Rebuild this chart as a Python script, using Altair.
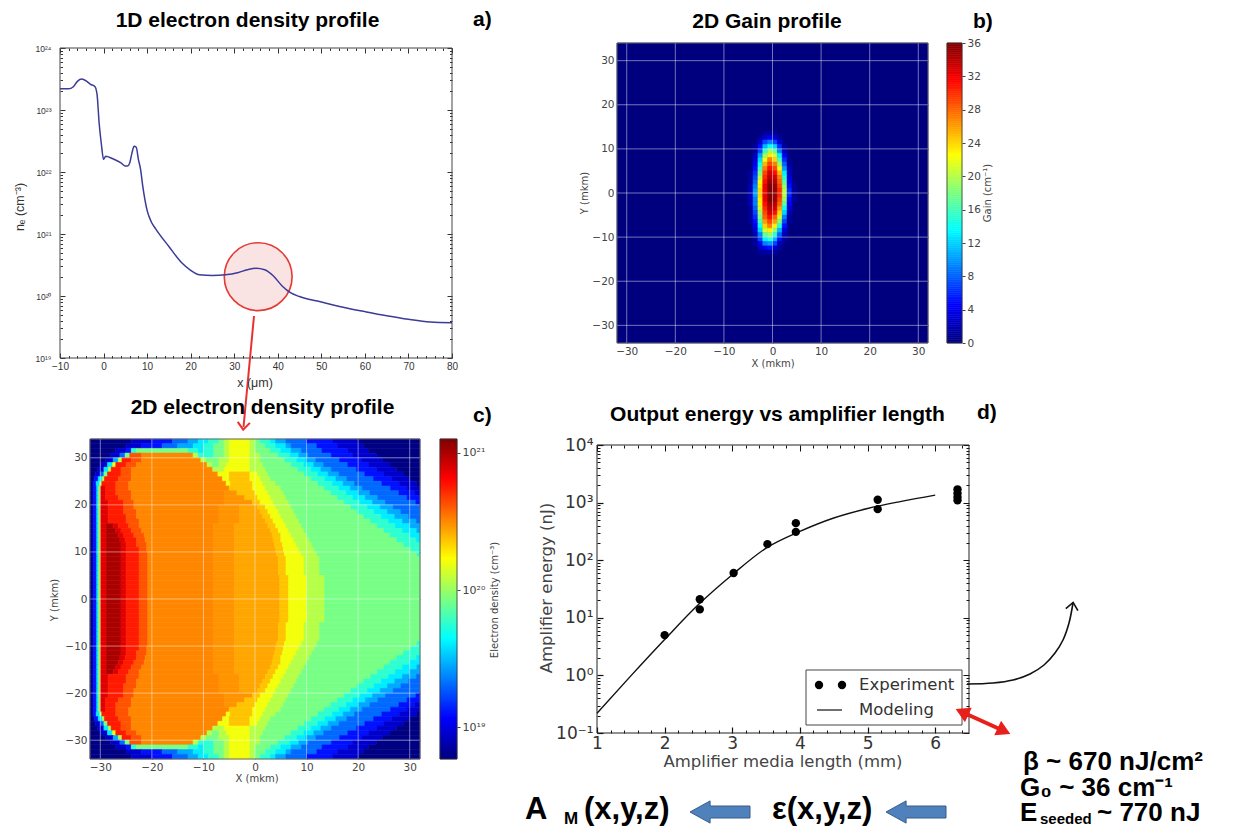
import altair as alt
import pandas as pd

W, H = 1217, 819
SUP = str.maketrans("0123456789-", "⁰¹²³⁴⁵⁶⁷⁸⁹⁻")

# ---------------- panel a : 1D electron density profile ----------------
A_X = [-10, -8, -7, -6, -5, -4, -3, -2, -1.5, -1, -0.5, 0, 0.5, 2, 4, 5, 5.5, 6, 6.5, 7,
       7.5, 8, 8.5, 9, 10, 11, 12, 15, 18, 20, 22, 25, 28, 31, 33, 35, 37, 39, 41, 43,
       45, 50, 55, 60, 65, 70, 75, 80]
A_NE = [2.2e23, 2.2e23, 2.35e23, 2.9e23, 3.15e23, 2.95e23, 2.6e23, 2.4e23, 1.8e23, 6.0e22,
        2.8e22, 1.6e22, 1.8e22, 1.65e22, 1.4e22, 1.25e22, 1.25e22, 1.4e22, 2.0e22, 2.6e22,
        2.5e22, 1.6e22, 1.1e22, 5.9e21, 2.4e21, 1.55e21, 1.2e21, 6.3e20, 3.4e20, 2.6e20,
        2.2e20, 2.15e20, 2.2e20, 2.4e20, 2.65e20, 2.8e20, 2.65e20, 2.1e20, 1.45e20, 1.12e20,
        9.8e19, 8.0e19, 6.6e19, 5.6e19, 4.8e19, 4.2e19, 3.8e19, 3.7e19]
A_XTICKS = [-10, 0, 10, 20, 30, 40, 50, 60, 70, 80]
A_XMINOR = [-8, -6, -4, -2, 2, 4, 6, 8, 12, 14, 16, 18, 22, 24, 26, 28, 32, 34, 36, 38,
            42, 44, 46, 48, 52, 54, 56, 58, 62, 64, 66, 68, 72, 74, 76, 78]
A_YTICKS = [1e19, 1e20, 1e21, 1e22, 1e23, 1e24]
A_MARK_X = [35.5]
A_MARK_Y = [2.05e20]

# ---------------- panel b : 2D gain profile ----------------
GAIN_X_CENTERS = [-5.5, -4.5, -3.5, -2.5, -1.5, -0.5, 0.5, 1.5, 2.5, 3.5, 4.5, 5.5]
GAIN_Y_CENTERS = [13.5, 12.5, 11.5, 10.5, 9.5, 8.5, 7.5, 6.5, 5.5, 4.5, 3.5, 2.5, 1.5, 0.5,
                  -0.5, -1.5, -2.5, -3.5, -4.5, -5.5, -6.5, -7.5, -8.5, -9.5, -10.5, -11.5,
                  -12.5, -13.5]
GAIN_ROWS = [
    "0 0 0 0 1 1 1 0 0 0 0 0",
    "0 0 0 1 3 4 3 1 0 0 0 0",
    "0 0 0 3 7 9 7 3 0 0 0 0",
    "0 0 1 5 11 14 12 6 1 0 0 0",
    "0 0 1 7 15 19 17 9 2 0 0 0",
    "0 0 2 10 19 23 21 13 4 0 0 0",
    "0 0 3 12 22 27 24 16 6 1 0 0",
    "0 0 4 14 25 29 27 19 8 1 0 0",
    "0 0 5 16 27 31 29 22 10 2 0 0",
    "0 1 6 18 29 33 31 25 13 2 0 0",
    "0 1 7 20 30 34 33 27 15 3 0 0",
    "0 1 8 22 31 35 34 28 17 4 0 0",
    "0 2 9 23 32 36 35 29 19 5 1 0",
    "0 2 10 24 32 36 35 30 20 6 1 0",
    "0 2 10 24 32 36 35 30 20 6 1 0",
    "0 2 9 23 32 36 35 29 19 5 1 0",
    "0 2 9 23 31 35 34 28 17 4 0 0",
    "0 1 8 21 30 34 33 26 14 3 0 0",
    "0 1 7 19 29 33 31 24 12 2 0 0",
    "0 1 6 18 28 31 28 21 9 1 0 0",
    "0 1 5 16 26 29 26 18 7 1 0 0",
    "0 0 4 14 24 27 23 15 5 0 0 0",
    "0 0 3 12 21 23 19 11 3 0 0 0",
    "0 0 2 9 17 19 15 8 2 0 0 0",
    "0 0 1 7 13 15 11 5 1 0 0 0",
    "0 0 1 4 9 10 7 2 0 0 0 0",
    "0 0 0 2 4 5 3 1 0 0 0 0",
    "0 0 0 1 1 1 1 0 0 0 0 0",
]
GAIN_MIN, GAIN_MAX = 0, 36
GAIN_TICKS = [0, 4, 8, 12, 16, 20, 24, 28, 32, 36]
GRID_TICKS = [-30, -20, -10, 0, 10, 20, 30]

# ---------------- panel c : 2D electron density (log10 n_e) ----------------
# one row per 1-mkm strip in Y; each token "level:x_end" is a run of one level from the
# previous x_end (starting at X = -32) to x_end.
DENS_LEVELS = {"0": 18.78, "1": 18.95, "2": 19.1, "3": 19.3, "4": 19.45, "5": 19.6,
               "6": 19.75, "7": 19.92, "8": 20.06, "9": 20.2, "a": 20.36, "g": 20.43,
               "h": 20.47, "b": 20.5, "c": 20.62, "d": 20.75, "e": 20.88, "f": 21.0}
L0 = "0:-31.4 2:-30.7 5:-30.3 8:-30 "
DENS_RUNS_UPPER = [
    (33.5, "0:-24 1:-20 2:-16 3:-13 4:-11 5:-9 6:-7 7:-6 8:-5 9:-1 8:0 7:1 6:3 5:4 4:6 3:10 2:15 1:20 0:32"),
    (32.5, "0:-25 1:-22 2:-18 3:-15 4:-12 5:-10 6:-8 7:-6 8:-5 9:-1 8:0 7:2 6:4 5:6 4:7 3:12 2:16 1:21 0:32"),
    (31.5, "0:-27 1:-25 2:-24 6:-23 7:-13 6:-11 5:-10 6:-8 7:-6 8:-5 9:-1 8:0 7:3 6:5 5:7 4:9 3:13 2:18 1:22 0:32"),
    (30.5, "0:-28 1:-26.2 3:-25.2 7:-24.3 c:-22 b:-12 8:-11 6:-8 7:-6 8:-5 9:-1 8:1 7:4.5 6:6.8 5:8.5 4:10.3 3:14.8 2:19 1:23.5 0:32"),
    (29.5, "0:-29 1:-27.5 4:-26.5 8:-25.8 d:-24 c:-22 b:-10.5 8:-9.5 7:-7 8:-5 9:-1 8:1 7:5.8 6:8.1 5:9.9 4:11.8 3:16.4 2:20.6 1:24.8 0:32"),
    (28.5, "0:-30 1:-28.6 5:-27.6 9:-27 d:-25 c:-23 b:-9.3 8:-8.3 7:-7 8:-5.5 9:-1 8:1.5 7:7 6:9.5 5:11.4 4:13.3 3:18 2:22.1 1:26.2 0:32"),
    (27.5, "0:-30.5 1:-29.3 5:-28.4 8:-27.9 d:-26 c:-24 b:-8.2 8:-7.2 8:-6 9:-1 8:2 7:8.3 6:10.9 5:12.8 4:14.8 3:19.7 2:23.6 1:27.5 0:32"),
    (26.5, "0:-31 1:-30 3:-29.3 7:-28.6 d:-26 c:-24 b:-7.2 9:-6 9:-5 a:-1 9:0.5 8:2.5 7:9.6 6:12.2 5:14.2 4:16.3 3:21.3 2:25 1:28.8 0:32"),
    (25.5, "0:-31.2 2:-30.4 5:-29.6 8:-29.2 d:-26.5 c:-24 b:-6.3 9:-5 a:-1 9:1 8:3 7:10.9 6:13.6 5:15.7 4:17.8 3:23 2:26.5 1:30 0:32"),
    (24.5, "0:-31.4 2:-30.8 5:-30.1 8:-29.7 d:-27 c:-24.5 b:-5.6 9:-4.8 a:-0.5 9:1.5 8:4 7:12.2 6:15 5:17.1 4:19.3 3:24.6 2:28 1:31.4 0:32"),
    (23.5, L0 + "e:-29 d:-27 c:-24.5 b:-5 a:-0.5 9:2 8:5 7:13.4 6:16.3 5:18.5 4:20.8 3:26.3 2:29.5 1:32"),
    (22.5, L0 + "e:-29 d:-27 c:-24 b:-6 h:-3.5 a:0 9:2.5 8:5.5 7:14.7 6:17.7 5:20 4:22.3 3:27.9 2:31 1:32"),
    (21.5, L0 + "e:-29 d:-26.5 c:-24 b:-6 h:-2 a:0.5 9:3 8:6 7:16 6:19 5:21.4 4:23.8 3:29.5 2:32"),
    (20.5, L0 + "e:-28.5 d:-25.5 c:-23.5 b:-6 h:-0.5 a:1 9:3.5 8:6.5 7:17.3 6:20.4 5:22.8 4:25.3 3:31.2 2:32"),
    (19.5, L0 + "e:-28.5 d:-25.5 c:-23.5 b:-7 h:-3 g:0.5 a:2 9:4 8:7 7:18.6 6:21.8 5:24.3 4:26.8 3:32"),
    (18.5, L0 + "e:-28.5 d:-25.5 c:-23 b:-7 h:-3 g:1 a:2.5 9:4.5 8:7.5 7:19.8 6:23.1 5:25.7 4:28.3 3:32"),
    (17.5, L0 + "e:-28.5 d:-25 c:-23 b:-7 h:-3 g:1.5 a:3 9:5 8:8 7:21.1 6:24.5 5:27.1 4:29.8 3:32"),
    (16.5, L0 + "e:-28.5 d:-25 c:-22.5 b:-7 h:-3 g:2 a:3.5 9:5.5 8:8.5 7:22.4 6:25.9 5:28.6 4:31.3 3:32"),
    (15.5, L0 + "e:-28.8 f:-27.5 e:-26.5 d:-24.5 c:-22.5 b:-8 h:-4 g:2.5 a:4 9:6 8:9 7:23.7 6:27.2 5:30 4:32"),
    (14.5, L0 + "e:-28.8 f:-27 e:-26 d:-24 c:-22 b:-8 h:-4 g:3 a:4.5 9:6.5 8:9.5 7:25 6:28.6 5:31.4 4:32"),
    (13.5, L0 + "e:-28.8 f:-26.5 e:-25.5 d:-23.5 c:-21.5 b:-8 h:-4 g:3.3 a:5 9:7 8:10 7:26.2 6:30 5:32"),
    (12.5, L0 + "e:-28.8 f:-26.2 e:-25.2 d:-23 c:-21.3 b:-8 h:-4 g:3.5 a:5 9:7.5 8:10.5 7:27.5 6:31.3 5:32"),
    (11.5, L0 + "e:-28.8 f:-26 e:-25 d:-23 c:-21 b:-8 h:-4 g:3.8 a:5.3 9:8 8:11 7:28.8 6:32"),
    (10.5, L0 + "e:-28.8 f:-26 e:-25 d:-22.5 c:-21 b:-8 h:-4 g:4 a:5.5 9:8.5 8:11.5 7:30.1 6:32"),
    (9.5, L0 + "e:-28.8 f:-26 e:-25 d:-22.5 c:-20.8 b:-8 h:-4 g:4.2 a:5.7 9:9 8:12 7:31.4 6:32"),
    (8.5, L0 + "e:-28.8 f:-26 e:-25 d:-22.5 c:-20.8 b:-8 h:-4 g:4.5 a:6 9:9.5 8:12.5 7:32"),
    (7.5, L0 + "e:-28.8 f:-26 e:-25 d:-22.5 c:-20.8 b:-8 h:-4 g:4.5 a:6 9:9.5 8:12.5 7:32"),
    (6.5, L0 + "e:-28.8 f:-26 e:-25 d:-22.5 c:-20.8 b:-8 h:-4 g:4.5 a:6 9:9.5 8:12.5 7:32"),
    (5.5, L0 + "e:-28.8 f:-26 e:-25 d:-22.5 c:-20.8 b:-8 h:-4 g:4.5 a:6 9:9.5 8:12.5 7:32"),
    (4.5, L0 + "e:-28.8 f:-26 e:-25 d:-22.5 c:-20.8 b:-8 h:-4 g:4.8 a:6.5 9:10 8:13.5 7:32"),
    (3.5, L0 + "e:-28.8 f:-26 e:-25 d:-22.5 c:-20.8 b:-8 h:-4 g:4.8 a:6.5 9:10 8:13.5 7:32"),
    (2.5, L0 + "e:-28.8 f:-26 e:-25 d:-22.5 c:-20.8 b:-8 h:-4 g:4.8 a:6.5 9:10 8:13.5 7:32"),
    (1.5, L0 + "e:-28.8 f:-26 e:-25 d:-22.5 c:-20.8 b:-8 h:-4 g:4.8 a:6.5 9:10 8:13.5 7:32"),
    (0.5, L0 + "e:-28.8 f:-26 e:-25 d:-22.5 c:-20.8 b:-8 h:-4 g:4.8 a:6.5 9:10 8:13.5 7:32"),
]
# the profile is mirror-symmetric in Y
DENS_RUNS = DENS_RUNS_UPPER + [(-y, s) for y, s in reversed(DENS_RUNS_UPPER)]
DENS_MIN, DENS_MAX = 18.77, 21.1
DENS_TICKS = [19, 20, 21]

# ---------------- panel d : output energy vs amplifier length ----------------
D_EXP_X = [2.0, 2.52, 2.52, 3.02, 3.52, 3.94, 3.94, 5.15, 5.15, 6.33, 6.33, 6.33, 6.33]
D_EXP_Y = [5.0, 21, 14, 60, 190, 440, 310, 1120, 770, 1700, 1450, 1250, 1100]
D_MOD_X = [1, 1.5, 2, 2.5, 3, 3.5, 4, 4.5, 5, 5.5, 6]
D_MOD_Y = [0.22, 0.98, 4.2, 17, 56, 162, 316, 540, 790, 1050, 1350]
D_XTICKS = [1, 2, 3, 4, 5, 6]
D_XMINOR = [1.2, 1.4, 1.6, 1.8, 2.2, 2.4, 2.6, 2.8, 3.2, 3.4, 3.6, 3.8, 4.2, 4.4, 4.6,
            4.8, 5.2, 5.4, 5.6, 5.8, 6.2, 6.4]
D_YTICKS = [0.1, 1, 10, 100, 1000, 10000]

JET_POS = [0, 0.125, 0.375, 0.5, 0.625, 0.875, 1]
JET_COLORS = ["#00007f", "#0000ff", "#00ffff", "#7fff7f", "#ffff00", "#ff0000", "#7f0000"]

# plot-area boxes in chart pixels: (left, right, top, bottom)
BOX_A = (52, 444, 40, 350)
BOX_B = (609, 920, 35, 335)
BOX_C = (82, 412, 431, 751)
BOX_D = (589, 961, 437, 725)
CBAR_B = (939, 954, 35, 335)
CBAR_C = (432, 449, 431, 751)
CBAR_STEPS = 160


def log_minor(lo, hi):
    return [k * 10.0 ** e for e in range(lo, hi) for k in range(2, 10)]


def pow10_expr(exps, field="round(log(datum.value) / LN10)"):
    return " : ".join(f"{field} == {k} ? '10{str(k).translate(SUP)}'" for k in exps) + " : ''"


def axis(orient, pos, T, values, labels=False, **kw):
    if orient == "bottom":
        off = pos - T - H
    elif orient == "top":
        off = -(pos + T)
    elif orient == "left":
        off = -(pos + T)
    else:
        off = pos - T - W
    return alt.Axis(orient=orient, offset=off, tickSize=T, values=values, labels=labels,
                    domain=False, grid=False, title=None, labelFlush=False,
                    labelOverlap=False, labelBound=False, **kw)


def jet(vmin, vmax):
    return alt.Scale(domain=[vmin + (vmax - vmin) * p for p in JET_POS], range=JET_COLORS,
                     interpolate="rgb")


def frame_layers(frame_df, box, T, xticks, yticks, tick_color, stroke,
                 xminor=None, yminor=None, t=2):
    x0, x1, y0, y1 = box
    layers = [alt.Chart(frame_df).mark_rect(fillOpacity=0, stroke=stroke, strokeWidth=1).encode(
        x=alt.X("x:Q", axis=axis("top", y0, T, xticks, tickColor=tick_color)),
        x2="x2:Q",
        y=alt.Y("y:Q", axis=axis("right", x1, T, yticks, tickColor=tick_color)),
        y2="y2:Q")]
    if xminor is not None:
        inv = alt.Chart(frame_df).mark_point(opacity=0)
        layers.append(inv.encode(
            x=alt.X("x:Q", axis=axis("bottom", y1, t, xminor, tickColor=tick_color)),
            y=alt.Y("y:Q", axis=axis("left", x0, t, yminor, tickColor=tick_color))))
        layers.append(inv.encode(
            x=alt.X("x:Q", axis=axis("top", y0, t, xminor, tickColor=tick_color)),
            y=alt.Y("y:Q", axis=axis("right", x1, t, yminor, tickColor=tick_color))))
    return layers


def colorbar_layer(box, vmin, vmax, ticks, label_size, label_expr=None):
    x0, x1, y0, y1 = box
    step = (vmax - vmin) / CBAR_STEPS
    df = pd.DataFrame({"v": [vmin + i * step for i in range(CBAR_STEPS)]})
    df["v2"] = df["v"] + step
    df["vs"] = df["v"]
    extra = {"labelExpr": label_expr} if label_expr else {}
    bar = alt.Chart(df).mark_rect(strokeWidth=0.6).encode(
        x=alt.value(x0), x2=alt.value(x1),
        y=alt.Y("v:Q", scale=alt.Scale(domain=[vmin, vmax], range=[y1, y0], nice=False,
                                       zero=False),
                axis=alt.Axis(orient="right", offset=x1 - W, tickSize=3, values=ticks,
                              domain=False, grid=False, title=None, labelFlush=False,
                              labelOverlap=False, labelBound=False, labelPadding=2,
                              labelFont="DejaVu Sans", labelFontSize=label_size,
                              labelColor="#444", tickColor="#444", **extra)),
        y2="v2:Q",
        color=alt.Color("v:Q", scale=jet(vmin, vmax), legend=None),
        stroke=alt.Stroke("vs:Q", scale=jet(vmin, vmax), legend=None))
    outline = alt.Chart(ONE).mark_rect(fillOpacity=0, stroke="#333", strokeWidth=0.8).encode(
        x=alt.value(x0), x2=alt.value(x1), y=alt.value(y0), y2=alt.value(y1))
    return [bar, outline]


def txt(items, **style):
    df = pd.DataFrame(items, columns=["t", "x", "y"])
    return alt.Chart(df).mark_text(**style).encode(
        x=alt.X("x:Q", scale=None, axis=None),
        y=alt.Y("y:Q", scale=None, axis=None),
        text="t:N")


ONE = pd.DataFrame({"k": [0]})

# ================= panel a =================
xA = alt.Scale(domain=[-10, 80], range=[BOX_A[0], BOX_A[1]], nice=False, zero=False)
yA = alt.Scale(type="log", domain=[1e19, 1e24], range=[BOX_A[3], BOX_A[2]], nice=False)
dfA = pd.DataFrame({"x": A_X, "ne": A_NE})
lab_a = dict(labels=True, labelFont="Liberation Sans", labelColor="#333", tickColor="#333")
line_a = alt.Chart(dfA).mark_line(color="#3b3b98", strokeWidth=1.5, interpolate="monotone").encode(
    x=alt.X("x:Q", scale=xA, axis=axis("bottom", BOX_A[3], 5, A_XTICKS, labelFontSize=10,
                                       labelPadding=3, **lab_a)),
    y=alt.Y("ne:Q", scale=yA, axis=axis("left", BOX_A[0], 5, A_YTICKS, labelFontSize=8.5,
                                        labelPadding=9, labelExpr=pow10_expr(range(19, 25)),
                                        **lab_a)))
circle_a = alt.Chart(pd.DataFrame({"x": A_MARK_X, "y": A_MARK_Y})).mark_point(
    shape="circle", size=4600, filled=True, fill="#f5c0c0", fillOpacity=0.45,
    stroke="#e53935", strokeWidth=1.6, opacity=1).encode(
    x=alt.X("x:Q", axis=None), y=alt.Y("y:Q", axis=None))
frame_a = pd.DataFrame({"x": [-10], "x2": [80], "y": [1e19], "y2": [1e24]})
panel_a = alt.layer(circle_a, line_a,
                    *frame_layers(frame_a, BOX_A, 5, A_XTICKS, A_YTICKS, "#333", "#444",
                                  A_XMINOR, log_minor(19, 24), 2.5)
                    ).resolve_axis(x="independent", y="independent")

# ================= panel b =================
xB = alt.Scale(domain=[-32, 32], range=[BOX_B[0], BOX_B[1]], nice=False, zero=False)
yB = alt.Scale(domain=[-34, 34], range=[BOX_B[3], BOX_B[2]], nice=False, zero=False)
rows_b = [{"x0": -32, "x1": 32, "y0": -34, "y1": 34, "g": 0}]
for yc, row in zip(GAIN_Y_CENTERS, GAIN_ROWS):
    for xc, v in zip(GAIN_X_CENTERS, row.split()):
        if int(v) > 0:
            rows_b.append({"x0": xc - 0.5, "x1": xc + 0.5, "y0": yc - 0.5, "y1": yc + 0.5,
                           "g": int(v)})
dfB = pd.DataFrame(rows_b)
dfB["gs"] = dfB["g"]
lab_bc = dict(labels=True, labelFont="DejaVu Sans", labelFontSize=10.5, labelColor="#444",
              tickColor="#666")
heat_b = alt.Chart(dfB).mark_rect(strokeWidth=0.6).encode(
    x=alt.X("x0:Q", scale=xB, axis=axis("bottom", BOX_B[3], 4, GRID_TICKS, labelPadding=3, **lab_bc)),
    x2="x1:Q",
    y=alt.Y("y0:Q", scale=yB, axis=axis("left", BOX_B[0], 4, GRID_TICKS, labelPadding=3, **lab_bc)),
    y2="y1:Q",
    color=alt.Color("g:Q", scale=jet(GAIN_MIN, GAIN_MAX), legend=None),
    stroke=alt.Stroke("gs:Q", scale=jet(GAIN_MIN, GAIN_MAX), legend=None))
gridB_v = pd.DataFrame({"v": GRID_TICKS, "lo": -34, "hi": 34})
gridB_h = pd.DataFrame({"v": GRID_TICKS, "lo": -32, "hi": 32})
grid_style = dict(color="white", opacity=0.45, strokeWidth=1)
gb1 = alt.Chart(gridB_v).mark_rule(**grid_style).encode(
    x=alt.X("v:Q", axis=None), y=alt.Y("lo:Q", axis=None), y2="hi:Q")
gb2 = alt.Chart(gridB_h).mark_rule(**grid_style).encode(
    y=alt.Y("v:Q", axis=None), x=alt.X("lo:Q", axis=None), x2="hi:Q")
frame_b = pd.DataFrame({"x": [-32], "x2": [32], "y": [-34], "y2": [34]})
panel_b = alt.layer(heat_b, gb1, gb2,
                    *frame_layers(frame_b, BOX_B, 4, GRID_TICKS, GRID_TICKS, "#666", "#666")
                    ).resolve_axis(x="independent", y="independent")

# ================= panel c =================
xC = alt.Scale(domain=[-32, 32], range=[BOX_C[0], BOX_C[1]], nice=False, zero=False)
yC = alt.Scale(domain=[-34, 34], range=[BOX_C[3], BOX_C[2]], nice=False, zero=False)
rows_c = []
for yc, spec in DENS_RUNS:
    x_prev = -32.0
    for tok in spec.split():
        code, x_end = tok.split(":")
        x_end = float(x_end)
        rows_c.append({"x0": x_prev, "x1": x_end, "y0": yc - 0.5, "y1": yc + 0.5,
                       "n": DENS_LEVELS[code]})
        x_prev = x_end
dfC = pd.DataFrame(rows_c)
dfC["ns"] = dfC["n"]
heat_c = alt.Chart(dfC).mark_rect(strokeWidth=0.6).encode(
    x=alt.X("x0:Q", scale=xC, axis=axis("bottom", BOX_C[3], 4, GRID_TICKS, labelPadding=3, **lab_bc)),
    x2="x1:Q",
    y=alt.Y("y0:Q", scale=yC, axis=axis("left", BOX_C[0], 4, GRID_TICKS, labelPadding=3, **lab_bc)),
    y2="y1:Q",
    color=alt.Color("n:Q", scale=jet(DENS_MIN, DENS_MAX), legend=None),
    stroke=alt.Stroke("ns:Q", scale=jet(DENS_MIN, DENS_MAX), legend=None))
gc1 = alt.Chart(gridB_v).mark_rule(**grid_style).encode(
    x=alt.X("v:Q", axis=None), y=alt.Y("lo:Q", axis=None), y2="hi:Q")
gc2 = alt.Chart(gridB_h).mark_rule(**grid_style).encode(
    y=alt.Y("v:Q", axis=None), x=alt.X("lo:Q", axis=None), x2="hi:Q")
panel_c = alt.layer(heat_c, gc1, gc2,
                    *frame_layers(frame_b, BOX_C, 4, GRID_TICKS, GRID_TICKS, "#666", "#666")
                    ).resolve_axis(x="independent", y="independent")

# ================= panel d =================
xD = alt.Scale(domain=[1, 6.5], range=[BOX_D[0], BOX_D[1]], nice=False, zero=False)
yD = alt.Scale(type="log", domain=[0.1, 1e4], range=[BOX_D[3], BOX_D[2]], nice=False)
lab_d = dict(labels=True, labelFont="DejaVu Sans", labelFontSize=17, labelColor="#333",
             tickColor="#111", tickWidth=1.2)
model_d = alt.Chart(pd.DataFrame({"x": D_MOD_X, "y": D_MOD_Y})).mark_line(
    color="#111", strokeWidth=1.4, interpolate="monotone").encode(
    x=alt.X("x:Q", scale=xD, axis=axis("bottom", BOX_D[3], 6, D_XTICKS, labelPadding=2, **lab_d)),
    y=alt.Y("y:Q", scale=yD, axis=axis("left", BOX_D[0], 6, D_YTICKS, labelPadding=4,
                                       labelExpr=pow10_expr(range(-1, 5)), **lab_d)))
exp_d = alt.Chart(pd.DataFrame({"x": D_EXP_X, "y": D_EXP_Y})).mark_circle(
    size=70, color="black", opacity=1).encode(
    x=alt.X("x:Q", axis=None), y=alt.Y("y:Q", axis=None))
frame_d = pd.DataFrame({"x": [1], "x2": [6.5], "y": [0.1], "y2": [1e4]})
panel_d = alt.layer(model_d, exp_d,
                    *frame_layers(frame_d, BOX_D, 6, D_XTICKS, D_YTICKS, "#111", "#222",
                                  D_XMINOR, log_minor(-1, 4), 3)
                    ).resolve_axis(x="independent", y="independent")

# legend of panel d
leg_box = alt.Chart(ONE).mark_rect(fill="white", stroke="#444", strokeWidth=1).encode(
    x=alt.value(798), x2=alt.value(954), y=alt.value(662), y2=alt.value(717))
leg_dots = alt.Chart(pd.DataFrame({"x": [811, 834], "y": [677, 677]})).mark_circle(
    size=70, color="black", opacity=1).encode(
    x=alt.X("x:Q", scale=None, axis=None), y=alt.Y("y:Q", scale=None, axis=None))
leg_line = alt.Chart(ONE).mark_rule(color="#333", strokeWidth=1.4).encode(
    x=alt.value(809), x2=alt.value(834), y=alt.value(702))
leg_txt = txt([("Experiment", 851, 677), ("Modeling", 851, 702)],
              font="DejaVu Sans", fontSize=16.5, color="#333", align="left", baseline="middle")

# ================= colour bars =================
cbar_b = colorbar_layer(CBAR_B, GAIN_MIN, GAIN_MAX, GAIN_TICKS, 10.5)
cbar_c = colorbar_layer(CBAR_C, DENS_MIN, DENS_MAX, DENS_TICKS, 11,
                        pow10_expr(DENS_TICKS, field="datum.value"))

# ================= annotations =================
red_link = alt.Chart(ONE).mark_rule(color="#e8312f", strokeWidth=2).encode(
    x=alt.value(246), y=alt.value(308), x2=alt.value(235.5), y2=alt.value(419))
red_head = alt.Chart(ONE).mark_point(shape="M -1 -0.6 L 0 0.6 L 1 -0.6", size=150, filled=False,
                                     color="#e8312f", strokeWidth=2, opacity=1, angle=5).encode(
    x=alt.value(235.5), y=alt.value(418))

CURVE_X = [959, 985, 1005, 1022, 1036, 1047, 1055, 1061, 1065]
CURVE_Y = [676, 675, 672, 666, 657, 645, 632, 615, 595]
curve = alt.Chart(pd.DataFrame({"x": CURVE_X, "y": CURVE_Y, "i": range(len(CURVE_X))})).mark_line(
    color="#111", strokeWidth=1.6, interpolate="catmull-rom").encode(
    x=alt.X("x:Q", scale=None, axis=None), y=alt.Y("y:Q", scale=None, axis=None),
    order="i:Q")
curve_head = alt.Chart(ONE).mark_point(shape="M -1 0.6 L 0 -0.6 L 1 0.6", size=150, filled=False,
                                       color="#111", strokeWidth=1.6, opacity=1, angle=10).encode(
    x=alt.value(1064.5), y=alt.value(598))

red_arrow = alt.Chart(ONE).mark_rule(color="#e8201c", strokeWidth=4).encode(
    x=alt.value(954), y=alt.value(704), x2=alt.value(996), y2=alt.value(723))
red_heads = [
    alt.Chart(ONE).mark_point(shape="triangle-right", size=260, filled=True, color="#e8201c",
                              opacity=1, angle=25).encode(x=alt.value(996), y=alt.value(723)),
    alt.Chart(ONE).mark_point(shape="triangle-left", size=260, filled=True, color="#e8201c",
                              opacity=1, angle=25).encode(x=alt.value(954), y=alt.value(704)),
]

BLOCK_ARROW = "M -1 0 L -0.33 -0.37 L -0.33 -0.2 L 1 -0.2 L 1 0.2 L -0.33 0.2 L -0.33 0.37 Z"
blue_arrows = alt.Chart(pd.DataFrame({"x": [712, 908], "y": [804, 804]})).mark_point(
    shape=BLOCK_ARROW, size=3600, filled=True, fill="#4f81bd", stroke="#385d8a",
    strokeWidth=1, opacity=1).encode(
    x=alt.X("x:Q", scale=None, axis=None), y=alt.Y("y:Q", scale=None, axis=None))

title_style = dict(font="Liberation Sans", fontSize=21, fontWeight="bold", color="black",
                   baseline="alphabetic")
titles = txt([("1D  electron density profile", 239.5, 19),
              ("2D Gain profile", 759, 20),
              ("2D electron density profile", 254.5, 406),
              ("Output energy vs amplifier length", 769.5, 413)], align="center", **title_style)
tags = txt([("a)", 465, 18), ("b)", 965, 20), ("c)", 465, 414), ("d)", 969, 411)],
           align="left", **title_style)

ax_titles_small = txt([("X (mkm)", 765, 356), ("X (mkm)", 249, 771)],
                      font="DejaVu Sans", fontSize=10, color="#444", align="center",
                      baseline="middle")
ax_titles_small_rot = txt([("Y (mkm)", 577, 185), ("Gain (cm⁻¹)", 980, 185),
                           ("Y (mkm)", 47, 592), ("Electron density (cm⁻³)", 487, 592)],
                          font="DejaVu Sans", fontSize=10, color="#444", align="center",
                          baseline="middle", angle=270)
ax_title_a = txt([("x (μm)", 247, 375)], font="Liberation Sans", fontSize=12.5, color="#333",
                 align="center", baseline="middle")
ax_title_a_rot = txt([("nₑ (cm⁻³)", 12, 199)], font="Liberation Sans", fontSize=12.5,
                     color="#333", align="center", baseline="middle", angle=270)
ax_title_d = txt([("Amplifier media length (mm)", 775, 754)], font="DejaVu Sans",
                 fontSize=16.5, color="#444", align="center", baseline="middle")
ax_title_d_rot = txt([("Amplifier energy (nJ)", 539, 580)], font="DejaVu Sans", fontSize=16.5,
                     color="#444", align="center", baseline="middle", angle=270)

big = dict(font="Liberation Sans", fontWeight="bold", color="black", align="left",
           baseline="alphabetic")
bottom_big = txt([("A", 517, 811), ("(x,y,z)", 576, 811), ("ε(x,y,z)", 764, 811)],
                 fontSize=31, **big)
bottom_sub = txt([("M", 556, 816)], fontSize=17, **big)
params_big = txt([("β ~ 670 nJ/cm²", 1015, 762), ("G₀ ~ 36 cm⁻¹", 1012, 788),
                  ("E", 1012, 813), ("~ 770 nJ", 1089, 813)], fontSize=26, **big)
params_sub = txt([("seeded", 1032, 816)], fontSize=15, **big)

chart = alt.layer(
    panel_a, panel_b, panel_c, panel_d, *cbar_b, *cbar_c,
    leg_box, leg_dots, leg_line, leg_txt,
    red_link, red_head, curve, curve_head, red_arrow, *red_heads, blue_arrows,
    titles, tags, ax_titles_small, ax_titles_small_rot, ax_title_a, ax_title_a_rot,
    ax_title_d, ax_title_d_rot, bottom_big, bottom_sub, params_big, params_sub,
).resolve_scale(
    x="independent", y="independent", color="independent", stroke="independent"
).properties(
    width=W, height=H, autosize=alt.AutoSizeParams(type="none"), padding=0
).configure_view(stroke=None)

chart.save("out.html", embed_options={"renderer": "svg", "actions": False})
